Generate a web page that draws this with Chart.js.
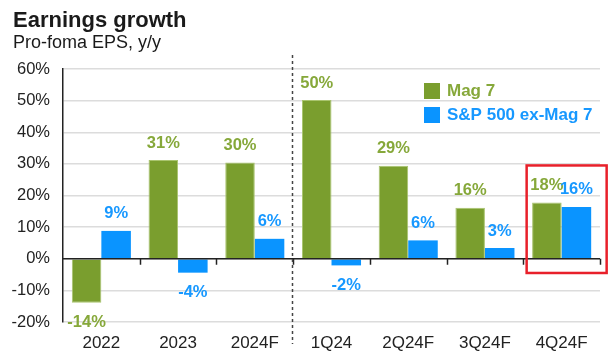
<!DOCTYPE html>
<html>
<head>
<meta charset="utf-8">
<script src="https://cdn.jsdelivr.net/npm/chart.js@4"></script>
<style>
  html, body { margin: 0; padding: 0; background: #fff; }
  #wrap { width: 615px; height: 357px; position: relative; }
</style>
</head>
<body>
<div id="wrap"><canvas id="c" width="615" height="357"></canvas></div>
<script>
const categories = ['2022', '2023', '2024F', '1Q24', '2Q24F', '3Q24F', '4Q24F'];
const mag7 = [-13.9, 31.2, 30.4, 50.2, 29.4, 16.1, 17.8];
const spExMag7 = [8.8, -4.4, 6.3, -2.1, 5.8, 3.4, 16.4];
const seriesNames = ['Mag 7', 'S&P 500 ex-Mag 7'];
const yTicks = [-20, -10, 0, 10, 20, 30, 40, 50, 60];
const titleText = 'Earnings growth';
const subtitleText = 'Pro-foma EPS, y/y';

const GREEN = '#7a9e2e';
const BLUE = '#0a94ff';
const GREEN_TXT = '#86a83a';
const BLUE_TXT = '#1798ff';
const FONT = "'Liberation Sans', Arial, sans-serif";

const extras = {
  id: 'extras',
  beforeDraw(chart) {
    const ctx = chart.ctx;
    ctx.save();
    ctx.fillStyle = '#fff';
    ctx.fillRect(0, 0, chart.width, chart.height);
    ctx.fillStyle = '#1a1a1a';
    ctx.textAlign = 'left';
    ctx.textBaseline = 'alphabetic';
    ctx.font = 'bold 22px ' + FONT;
    ctx.fillText(titleText, 13, 27);
    ctx.font = '18px ' + FONT;
    ctx.fillText(subtitleText, 13, 48);
    ctx.restore();
  },
  afterDatasetsDraw(chart) {
    const ctx = chart.ctx;
    const xs = chart.scales.x, ys = chart.scales.y;
    const area = chart.chartArea;
    const y0 = ys.getPixelForValue(0);
    const step = xs.getPixelForValue(1) - xs.getPixelForValue(0);
    ctx.save();
    // zero line
    ctx.strokeStyle = '#222';
    ctx.lineWidth = 1.5;
    ctx.beginPath();
    ctx.moveTo(area.left, y0);
    ctx.lineTo(area.right, y0);
    ctx.stroke();
    // category boundary ticks
    ctx.lineWidth = 1.5;
    for (let i = 1; i <= categories.length; i++) {
      const bx = Math.round(xs.getPixelForValue(i) - step / 2) + 0.5;
      ctx.beginPath();
      ctx.moveTo(bx, y0);
      ctx.lineTo(bx, y0 + 6);
      ctx.stroke();
    }
    // dashed separator between annual and quarterly
    const sx = Math.round(xs.getPixelForValue(3) - step / 2) - 0.5;
    ctx.strokeStyle = '#444';
    ctx.lineWidth = 1.5;
    ctx.setLineDash([3, 3]);
    ctx.beginPath();
    ctx.moveTo(sx, 55);
    ctx.lineTo(sx, 344);
    ctx.stroke();
    ctx.setLineDash([]);
    // data labels
    ctx.font = 'bold 16.5px ' + FONT;
    ctx.textAlign = 'center';
    ctx.textBaseline = 'middle';
    chart.data.datasets.forEach((ds, di) => {
      const meta = chart.getDatasetMeta(di);
      ctx.fillStyle = di === 0 ? GREEN_TXT : BLUE_TXT;
      meta.data.forEach((bar, i) => {
        const v = ds.data[i];
        const txt = Math.round(v) + '%';
        const ty = v >= 0 ? bar.y - 17 : bar.y + 20;
        ctx.fillText(txt, bar.x, ty);
      });
    });
    // legend
    const lx = 424, ly = [83, 107];
    ctx.textAlign = 'left';
    ctx.font = 'bold 17px ' + FONT;
    chart.data.datasets.forEach((ds, di) => {
      ctx.fillStyle = ds.backgroundColor;
      ctx.fillRect(lx, ly[di], 16, 16);
      ctx.fillStyle = di === 0 ? GREEN_TXT : BLUE_TXT;
      ctx.fillText(ds.label, lx + 23, ly[di] + 8.5);
    });
    // highlight box around last category
    const cx = xs.getPixelForValue(categories.length - 1);
    ctx.strokeStyle = '#e8202a';
    ctx.lineWidth = 2.5;
    ctx.strokeRect(cx - 35, ys.getPixelForValue(29.5), 80, ys.getPixelForValue(-4.5) - ys.getPixelForValue(29.5));
    ctx.restore();
  }
};

new Chart(document.getElementById('c'), {
  type: 'bar',
  data: {
    labels: categories,
    datasets: [
      { label: seriesNames[0], data: mag7, backgroundColor: GREEN, borderColor: '#a9c46e', borderWidth: 1 },
      { label: seriesNames[1], data: spExMag7, backgroundColor: BLUE, borderColor: '#5cb8ff', borderWidth: 0 }
    ]
  },
  options: {
    responsive: false,
    animation: false,
    devicePixelRatio: 1,
    layout: { padding: { top: 69, right: 15, bottom: 0, left: 0 } },
    datasets: { bar: { categoryPercentage: 0.77, barPercentage: 1 } },
    plugins: { legend: { display: false }, tooltip: { enabled: false }, title: { display: false } },
    scales: {
      x: {
        type: 'category',
        offset: true,
        grid: { display: false, drawTicks: false },
        border: { display: false },
        ticks: { color: '#222', font: { family: FONT, size: 17 }, padding: 11, maxRotation: 0 },
        afterFit(s) { s.height = 35; }
      },
      y: {
        min: -20, max: 60,
        afterBuildTicks(s) { s.ticks = yTicks.map(v => ({ value: v })); },
        grid: { color: '#dcdcdc', lineWidth: 1.5, drawTicks: false },
        border: { display: true, color: '#222', width: 1.5 },
        ticks: { color: '#222', font: { family: FONT, size: 16.5 }, padding: 13, callback: v => v + '%' },
        afterFit(s) { s.width = 63; }
      }
    }
  },
  plugins: [extras]
});
</script>
</body>
</html>
